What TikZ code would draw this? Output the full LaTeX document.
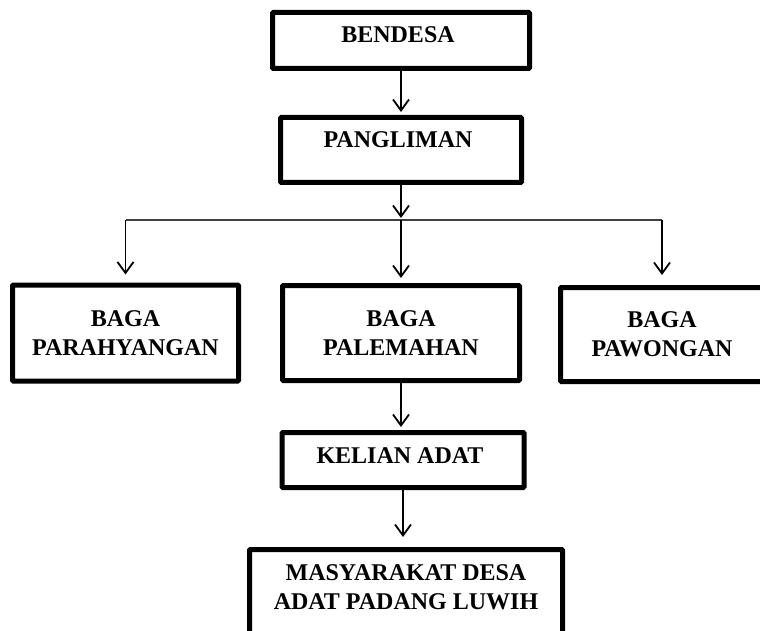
\documentclass[tikz,border=0pt]{standalone}
\usepackage{fontspec}
\setmainfont{Liberation Serif}
\usetikzlibrary{arrows.meta}
\usetikzlibrary{positioning}
\tikzset{
  unit/.style={
    rectangle,
    rounded corners=1pt,
    draw=black, line width=5pt,
    inner sep=0pt,
    align=center,
    font=\bfseries\fontsize{24}{29}\selectfont,
  },
}

\begin{document}
\begin{tikzpicture}[x=1pt,y=-1pt,->,>={Straight Barb[length=11pt,width=16pt]},line width=1.8pt]
  \useasboundingbox (0,0) rectangle (760,631);
  \clip (0,0) rectangle (760,631);
    \node[unit, minimum width=257pt, minimum height=56pt,
      text height=16pt, text depth=11pt] (bendesa) at (401,40.5)
    {
      BENDESA
    };
    \node[unit, minimum width=241pt, minimum height=65pt,
      text height=16pt, text depth=20pt, below=44pt of bendesa] (pangliman)
    {
      PANGLIMAN
    };
    \coordinate[below=35pt of pangliman] (split);
    \node[unit, minimum width=237pt, minimum height=95pt, below=98pt of pangliman] (palemahan)
    {
      BAGA\\PALEMAHAN
    };
    \node[unit, minimum width=226pt, minimum height=96pt, left=39pt of palemahan] (parahyangan)
    {
      BAGA\\PARAHYANGAN
    };
    \node[unit, minimum width=203pt, minimum height=94pt, right=36pt of palemahan, yshift=-1.5pt] (pawongan)
    {
      BAGA\\PAWONGAN
    };
    \node[unit, minimum width=242pt, minimum height=55pt,
      text height=16pt, text depth=10pt, below=47pt of palemahan, xshift=2pt] (kelian)
    {
      KELIAN ADAT
    };
    \node[unit, minimum width=313pt, minimum height=88pt,
      text depth=12pt, below=57pt of kelian, xshift=3pt] (masyarakat)
    {
      MASYARAKAT DESA\\ADAT PADANG LUWIH
    };
      \path (bendesa) edge[shorten >=3pt] (pangliman);
      \path (pangliman) edge[shorten >=2pt] (split);
      \draw[-, line width=1.3pt, black!75] (split -| parahyangan) -- (split -| pawongan);
      \path (split -| parahyangan) edge[shorten >=8pt] (parahyangan);
      \path (split) edge[shorten >=5pt] (palemahan);
      \path (split -| pawongan) edge[shorten >=10pt] (pawongan);
      \path (palemahan) edge[shorten >=3pt] (kelian.north -| palemahan);
      \path (kelian) edge[shorten >=10pt] (kelian |- masyarakat.north);
  \end{tikzpicture}
\end{document}
